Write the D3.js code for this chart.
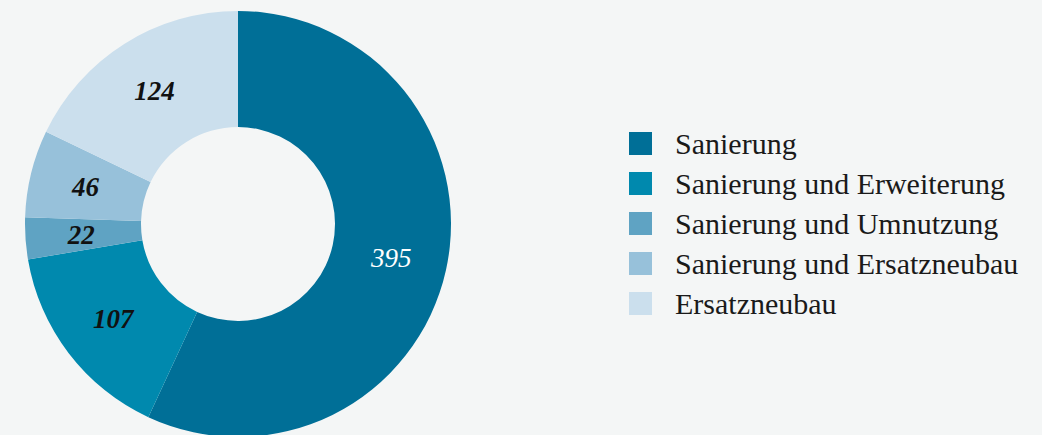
<!DOCTYPE html>
<html>
<head>
<meta charset="utf-8">
<script src="https://cdn.jsdelivr.net/npm/d3@7"></script>
<style>
  html, body { margin: 0; padding: 0; background: #f4f6f6; }
  svg { display: block; }
</style>
</head>
<body>
<svg id="chart" width="1042" height="435"></svg>
<script>
const categories = ["Sanierung", "Sanierung und Erweiterung", "Sanierung und Umnutzung", "Sanierung und Ersatzneubau", "Ersatzneubau"];
const values = [395, 107, 22, 46, 124];
const colors = ["#006f97", "#0089ae", "#5fa3c3", "#97c1da", "#cbdfed"];
const labelColors = ["#ffffff", "#111111", "#111111", "#111111", "#111111"];
const labelWeights = ["normal", "bold", "bold", "bold", "bold"];

const svg = d3.select("#chart");
const cx = 238, cy = 224;
const outerR = 213, innerR = 97;
const font = "'Liberation Serif', 'Times New Roman', serif";

const data = categories.map((c, i) => ({ cat: c, value: values[i], i }));

const pie = d3.pie().value(d => d.value).sort(null).startAngle(0).endAngle(2 * Math.PI);
const arc = d3.arc().innerRadius(innerR).outerRadius(outerR);
const labelArc = d3.arc().innerRadius(157).outerRadius(157);

const g = svg.append("g").attr("transform", `translate(${cx},${cy})`);
const arcs = pie(data);

g.selectAll("path.slice").data(arcs).join("path")
  .attr("class", "slice")
  .attr("d", arc)
  .attr("fill", d => colors[d.data.i]);

g.selectAll("text.lbl").data(arcs).join("text")
  .attr("class", "lbl")
  .attr("transform", d => `translate(${labelArc.centroid(d)})`)
  .attr("text-anchor", "middle")
  .attr("dominant-baseline", "central")
  .attr("font-family", font)
  .attr("font-style", "italic")
  .attr("font-weight", d => labelWeights[d.data.i])
  .attr("font-size", 27)
  .attr("fill", d => labelColors[d.data.i])
  .text(d => d.data.value);

// Legend
const legY = d3.scaleBand().domain(categories).range([132, 332]).paddingInner(0);
const leg = svg.append("g");
const items = leg.selectAll("g.item").data(data).join("g")
  .attr("class", "item")
  .attr("transform", d => `translate(629,${legY(d.cat)})`);
items.append("rect")
  .attr("width", 23).attr("height", 23)
  .attr("fill", d => colors[d.i]);
items.append("text")
  .attr("x", 46).attr("y", 22)
  .attr("font-family", font)
  .attr("font-size", 30)
  .attr("fill", "#1a1a1a")
  .text(d => d.cat);
</script>
</body>
</html>
